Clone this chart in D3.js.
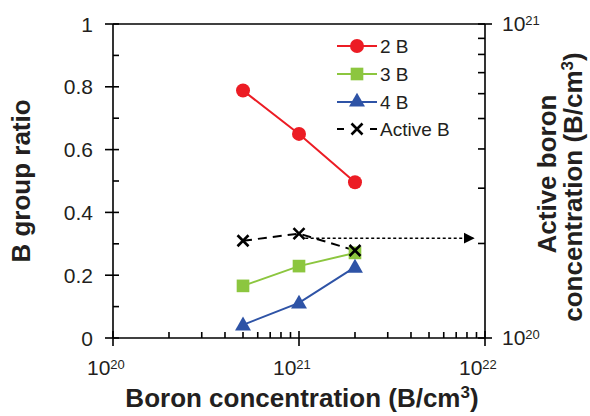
<!DOCTYPE html>
<html><head><meta charset="utf-8">
<script src="https://cdn.jsdelivr.net/npm/d3@7"></script>
<style>body{margin:0;background:#fff}svg{display:block;font-family:"Liberation Sans",Arial,sans-serif}</style>
</head><body><svg id="c" width="590" height="416"></svg>
<script>
// ---- data ----
const conc = [5e20, 1e21, 2e21];            // boron concentration (B/cm3)
const ratio2B = [0.788, 0.650, 0.496];
const ratio3B = [0.166, 0.229, 0.271];
const ratio4B = [0.042, 0.112, 0.226];
const activeB = [2.04e20, 2.15e20, 1.90e20]; // active boron concentration (right axis)
const arrowFrom = [1.08e21, 2.08e20];
const arrowTo = [8.8e21, 2.08e20];
const yTicks = [0, 0.2, 0.4, 0.6, 0.8, 1];
const yMinor = [0.1, 0.3, 0.5, 0.7, 0.9];
const xTickExp = [20, 21, 22];
const rTickExp = [20, 21];
const legendNames = ["2 B", "3 B", "4 B", "Active B"];

const svg = d3.select("#c");
svg.append("rect").attr("width",590).attr("height",416).attr("fill","#fff");
const L=113,R=485,T=24,B=338;
const x = d3.scaleLog().domain([1e20,1e22]).range([L,R]);
const yL = d3.scaleLinear().domain([0,1]).range([B,T]);
const yR = d3.scaleLog().domain([1e20,1e21]).range([B,T]);

const ax = svg.append("g").attr("stroke","#000").attr("stroke-width",1.6);
ax.append("line").attr("x1",L).attr("x2",L).attr("y1",T).attr("y2",B);
ax.append("line").attr("x1",R).attr("x2",R).attr("y1",T).attr("y2",B);
ax.append("line").attr("x1",L).attr("x2",R).attr("y1",B).attr("y2",B);
ax.append("line").attr("x1",L).attr("x2",R).attr("y1",T).attr("y2",T);
yTicks.forEach(v=>ax.append("line").attr("x1",L-8).attr("x2",L+6).attr("y1",yL(v)).attr("y2",yL(v)));
yMinor.forEach(v=>ax.append("line").attr("x1",L).attr("x2",L+6).attr("y1",yL(v)).attr("y2",yL(v)));
xTickExp.forEach(e=>ax.append("line").attr("x1",x(10**e)).attr("x2",x(10**e)).attr("y1",B-7).attr("y2",B+8));
[20,21].forEach(e=>{for(let k=2;k<=9;k++){const v=k*10**e;ax.append("line").attr("x1",x(v)).attr("x2",x(v)).attr("y1",B-6).attr("y2",B);}});
rTickExp.forEach(e=>ax.append("line").attr("x1",R-7).attr("x2",R+7).attr("y1",yR(10**e)).attr("y2",yR(10**e)));
for(let k=2;k<=9;k++){const v=k*1e20;ax.append("line").attr("x1",R-7).attr("x2",R).attr("y1",yR(v)).attr("y2",yR(v));}

const tl = svg.append("g").attr("fill","#231f20");
yTicks.forEach(v=>tl.append("text").attr("x",93).attr("y",yL(v)).attr("dy","0.36em").attr("text-anchor","end").attr("font-size",21).text(v===0||v===1?String(v):v.toFixed(1)));
function powLabel(g,px,py,e){
  const t=g.append("text").attr("x",px).attr("y",py).attr("font-size",21);
  t.append("tspan").text("10");
  t.append("tspan").attr("font-size",13).attr("dy",-6).text(e);
}
xTickExp.forEach(e=>powLabel(tl,x(10**e)-26,375,e));
rTickExp.forEach(e=>powLabel(tl,502,yR(10**e)+7,e));

const tt = svg.append("g").attr("font-weight","bold").attr("fill","#231f20").attr("font-size",26);
tt.append("text").attr("transform",`translate(30,${(T+B)/2}) rotate(-90)`).attr("text-anchor","middle").text("B group ratio");
const bt = tt.append("text").attr("x",(L+R)/2+3).attr("y",407).attr("text-anchor","middle");
bt.append("tspan").text("Boron concentration (B/cm");
bt.append("tspan").attr("font-size",17).attr("dy",-9).text("3");
bt.append("tspan").attr("dy",9).text(")");
tt.append("text").attr("transform",`translate(556,174) rotate(-90)`).attr("text-anchor","middle").text("Active boron");
const rt = tt.append("text").attr("transform",`translate(582,187) rotate(-90)`).attr("text-anchor","middle");
rt.append("tspan").text("concentration (B/cm");
rt.append("tspan").attr("font-size",17).attr("dy",-9).text("3");
rt.append("tspan").attr("dy",9).text(")");

const red="#ec1c24", green="#8cc63f", blue="#2e53a6";
const line = (ys,ysc)=>d3.line().x((d,i)=>x(conc[i])).y(d=>ysc(d))(ys);
const plot = svg.append("g");
svg.append("defs").append("marker").attr("id","ah").attr("viewBox","0 0 10 10").attr("refX",10).attr("refY",5)
  .attr("markerWidth",11).attr("markerHeight",12).attr("markerUnits","userSpaceOnUse").attr("orient","auto")
  .append("path").attr("d","M0,0L10,5L0,10Z").attr("fill","#000");
plot.append("line").attr("x1",x(arrowFrom[0])).attr("y1",yR(arrowFrom[1])).attr("x2",x(arrowTo[0])).attr("y2",yR(arrowTo[1]))
  .attr("stroke","#000").attr("stroke-width",1.5).attr("stroke-dasharray","3,2.5").attr("marker-end","url(#ah)");

plot.append("path").attr("d",line(ratio2B,yL)).attr("fill","none").attr("stroke",red).attr("stroke-width",2);
plot.append("path").attr("d",line(ratio3B,yL)).attr("fill","none").attr("stroke",green).attr("stroke-width",2);
plot.append("path").attr("d",line(ratio4B,yL)).attr("fill","none").attr("stroke",blue).attr("stroke-width",2);
plot.append("path").attr("d",line(activeB,yR)).attr("fill","none").attr("stroke","#000").attr("stroke-width",2).attr("stroke-dasharray","9,6");

const sq = d3.symbol().type(d3.symbolSquare).size(160)();
const tri = d3.symbol().type(d3.symbolTriangle).size(110)();
function cross(g,cx,cy){
  g.append("path").attr("d",`M${cx-5.5},${cy-5.5}L${cx+5.5},${cy+5.5}M${cx-5.5},${cy+5.5}L${cx+5.5},${cy-5.5}`).attr("stroke","#000").attr("stroke-width",2.6);
}
ratio3B.forEach((v,i)=>plot.append("path").attr("d",sq).attr("transform",`translate(${x(conc[i])},${yL(v)})`).attr("fill",green));
ratio4B.forEach((v,i)=>plot.append("path").attr("d",tri).attr("transform",`translate(${x(conc[i])},${yL(v)+1})`).attr("fill",blue));
ratio2B.forEach((v,i)=>plot.append("circle").attr("cx",x(conc[i])).attr("cy",yL(v)).attr("r",7).attr("fill",red));
activeB.forEach((v,i)=>cross(plot,x(conc[i]),yR(v)));

const lg = svg.append("g");
const ly=[46,74,102,129];
lg.append("line").attr("x1",337).attr("x2",377).attr("y1",ly[0]).attr("y2",ly[0]).attr("stroke",red).attr("stroke-width",2);
lg.append("circle").attr("cx",357).attr("cy",ly[0]).attr("r",7).attr("fill",red);
lg.append("line").attr("x1",337).attr("x2",377).attr("y1",ly[1]).attr("y2",ly[1]).attr("stroke",green).attr("stroke-width",2);
lg.append("path").attr("d",sq).attr("transform",`translate(357,${ly[1]})`).attr("fill",green);
lg.append("line").attr("x1",337).attr("x2",377).attr("y1",ly[2]).attr("y2",ly[2]).attr("stroke",blue).attr("stroke-width",2);
lg.append("path").attr("d",tri).attr("transform",`translate(357,${ly[2]})`).attr("fill",blue);
lg.append("line").attr("x1",337).attr("x2",344).attr("y1",ly[3]).attr("y2",ly[3]).attr("stroke","#000").attr("stroke-width",2);
lg.append("line").attr("x1",370).attr("x2",377).attr("y1",ly[3]).attr("y2",ly[3]).attr("stroke","#000").attr("stroke-width",2);
cross(lg,357,ly[3]);
legendNames.forEach((n,i)=>lg.append("text").attr("x",380).attr("y",ly[i]+7).attr("font-size",19).attr("fill","#231f20").text(n));
</script></body></html>
